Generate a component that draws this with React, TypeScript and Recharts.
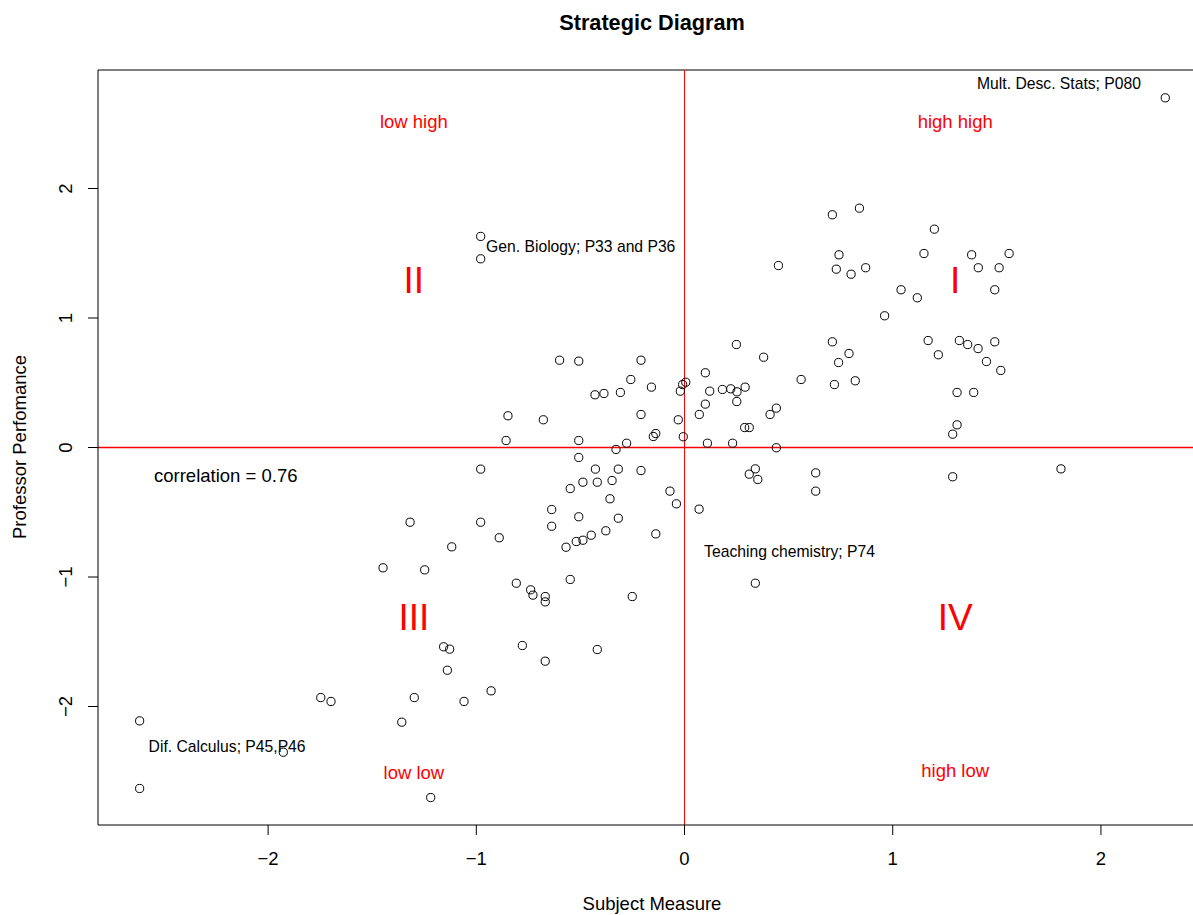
import { ScatterChart, Scatter, XAxis, YAxis, ReferenceLine } from 'recharts';

// subject measure (x) and professor performance (y), one entry per course
const subjectMeasure = [
  2.309, 0.71, 0.84, 1.2, 0.742, 1.15, 1.379, 1.559, 0.729, 0.8, 0.87, 1.411, 1.511, 1.04, 1.118, 1.49, 0.961, 0.451,
  0.71, 0.79, 0.74, 0.72, 0.82, 1.17, 1.32, 1.36, 1.41, 1.49, 1.219, 1.45, 1.519, 1.309, 1.389, 1.309, 1.288,
  0.249, 0.38, 0.56, 0.1, 0.006, -0.009, -0.02, 0.121, 0.182, 0.222, 0.252, 0.291, 0.1, 0.251, 0.071, 0.441, 0.411,
  0.289, 0.311, -0.006, 0.11, 0.231, 0.441,
  -0.979, -0.979, -0.6, -0.508, -0.209, -0.258, -0.159, -0.43, -0.387, -0.308, -0.848, -0.678, -0.209, -0.03,
  -0.857, -0.508, -0.138, -0.15, -0.278,
  -0.329, -0.508, -0.979, -0.428, -0.318, -0.209, 0.34, 0.311, 0.352, 0.63, 0.63, 1.288, 1.808, -0.488, -0.419,
  -0.348, -0.549, -0.07, -0.358, -0.039, 0.07, -0.979, -0.638, -0.508, -0.318, -0.638, -0.138, -0.89, -0.378,
  -0.448, -0.488, -0.52, -0.569, -0.808, -0.739, -0.728, -0.669, -0.669, -0.549, -0.251, 0.34, -0.779, -0.419,
  -0.669, -0.929, -1.059, -1.318, -1.118, -1.448, -1.248, -1.157, -1.128, -1.139, -1.747, -1.698, -1.298, -1.358,
  -2.617, -1.927, -2.617, -1.219,
];
const professorPerformance = [
  2.7, 1.797, 1.848, 1.686, 1.488, 1.498, 1.488, 1.498, 1.377, 1.338, 1.388, 1.388, 1.388, 1.218, 1.156, 1.218, 1.017, 1.405,
  0.816, 0.726, 0.656, 0.486, 0.515, 0.826, 0.826, 0.795, 0.764, 0.816, 0.716, 0.664, 0.595, 0.425, 0.425, 0.175, 0.103,
  0.795, 0.697, 0.525, 0.577, 0.504, 0.486, 0.435, 0.435, 0.448, 0.453, 0.43, 0.466, 0.335, 0.355, 0.255, 0.304, 0.255,
  0.154, 0.154, 0.083, 0.033, 0.033, -0.002,
  1.63, 1.457, 0.674, 0.667, 0.674, 0.525, 0.466, 0.407, 0.417, 0.425, 0.245, 0.214, 0.255, 0.214,
  0.054, 0.054, 0.108, 0.085, 0.033,
  -0.015, -0.077, -0.167, -0.167, -0.167, -0.178, -0.165, -0.206, -0.247, -0.196, -0.337, -0.226, -0.165, -0.268, -0.268,
  -0.255, -0.317, -0.337, -0.396, -0.435, -0.476, -0.577, -0.479, -0.535, -0.546, -0.608, -0.667, -0.697, -0.643,
  -0.677, -0.716, -0.726, -0.77, -1.048, -1.099, -1.14, -1.151, -1.192, -1.019, -1.151, -1.048, -1.529, -1.56,
  -1.65, -1.879, -1.961, -0.577, -0.767, -0.929, -0.945, -1.539, -1.557, -1.72, -1.931, -1.961, -1.931, -2.121,
  -2.111, -2.353, -2.633, -2.703,
];

const xTicks = [-2, -1, 0, 1, 2];
const yTicks = [-2, -1, 0, 1, 2];
const xDomain: [number, number] = [-2.817, 2.507];
const yDomain: [number, number] = [-2.915, 2.915];

const quadrantNames = ['low high', 'high high', 'low low', 'high low'];
const quadrantNameX = [-1.3, 1.3, -1.3, 1.3];
const quadrantNameY = [2.52, 2.52, -2.51, -2.49];

const romanNames = ['II', 'I', 'III', 'IV'];
const romanX = [-1.3, 1.3, -1.3, 1.3];
const romanY = [1.295, 1.295, -1.307, -1.307];

const noteTexts = ['Mult. Desc. Stats; P080', 'Gen. Biology; P33 and P36', 'Teaching chemistry; P74', 'Dif. Calculus; P45,P46'];
const noteX = [1.405, -0.953, 0.094, -2.574];
const noteY = [2.808, 1.552, -0.799, -2.305];

const correlationText = ['correlation = 0.76'];
const correlationX = [-2.548];
const correlationY = [-0.216];

const FONT = '"Liberation Sans", Arial, Helvetica, sans-serif';

const points = subjectMeasure.map((x, i) => ({ x, y: professorPerformance[i] }));
const toLabels = (texts: string[], xs: number[], ys: number[]) =>
  texts.map((label, i) => ({ x: xs[i], y: ys[i], label }));

const quadrantData = toLabels(quadrantNames, quadrantNameX, quadrantNameY);
const romanData = toLabels(romanNames, romanX, romanY);
const noteData = toLabels(noteTexts, noteX, noteY);
const corrData = toLabels(correlationText, correlationX, correlationY);

const fmt = (v: number) => (v < 0 ? '\u2212' + Math.abs(v) : String(v));

const textShape = (size: number, color: string, anchor: 'start' | 'middle' | 'end') => (props: any) => {
  const { cx, cy, payload } = props;
  return (
    <text x={cx} y={cy + size * 0.358} fontSize={size} fill={color} textAnchor={anchor} fontFamily={FONT}>
      {payload.label}
    </text>
  );
};

const circleShape = (props: any) => (
  <circle cx={props.cx} cy={props.cy} r={4.1} fill="none" stroke="#000" strokeWidth={1} />
);

const XTick = (props: any) => (
  <text x={props.x} y={props.y} fontSize={18.5} textAnchor="middle" fill="#000" fontFamily={FONT}>
    {fmt(props.payload.value)}
  </text>
);

const YTick = (props: any) => (
  <text
    x={props.x}
    y={props.y}
    transform={`rotate(-90 ${props.x} ${props.y})`}
    fontSize={18.5}
    textAnchor="middle"
    fill="#000"
    fontFamily={FONT}
  >
    {fmt(props.payload.value)}
  </text>
);

export default function App() {
  return (
    <div style={{ position: 'absolute', left: 0, top: 0, width: 1193, height: 915, overflow: 'hidden', background: '#fff' }}>
      <ScatterChart width={1212} height={915} margin={{ top: 70, right: 5.5, bottom: 0, left: 0 }}>
        <XAxis
          type="number"
          dataKey="x"
          domain={xDomain}
          ticks={xTicks}
          allowDataOverflow
          interval={0}
          axisLine={{ stroke: '#000' }}
          tickLine={{ stroke: '#000' }}
          tickSize={10}
          tickMargin={30}
          height={90}
          tick={XTick}
        />
        <YAxis
          type="number"
          dataKey="y"
          domain={yDomain}
          ticks={yTicks}
          allowDataOverflow
          interval={0}
          axisLine={{ stroke: '#000' }}
          tickLine={{ stroke: '#000' }}
          tickSize={10}
          tickMargin={16}
          width={98}
          tick={YTick}
        />
        <Scatter data={points} shape={circleShape} isAnimationActive={false} />
        <Scatter data={quadrantData} shape={textShape(18.5, '#ff0000', 'middle')} isAnimationActive={false} />
        <Scatter data={romanData} shape={textShape(37, '#ff0000', 'middle')} isAnimationActive={false} />
        <Scatter data={noteData} shape={textShape(15.7, '#000', 'start')} isAnimationActive={false} />
        <Scatter data={corrData} shape={textShape(18.5, '#000', 'start')} isAnimationActive={false} />
        <ReferenceLine y={yDomain[1]} stroke="#000" strokeWidth={1} ifOverflow="visible" />
        <ReferenceLine x={0} stroke="#ff0000" strokeWidth={1} />
        <ReferenceLine y={0} stroke="#ff0000" strokeWidth={1.4} />
      </ScatterChart>
      <svg
        width={1193}
        height={915}
        style={{ position: 'absolute', left: 0, top: 0, pointerEvents: 'none' }}
        fontFamily={FONT}
      >
        <text x={652} y={30} fontSize={21.7} fontWeight="bold" textAnchor="middle" fill="#000">
          Strategic Diagram
        </text>
        <text x={652} y={910} fontSize={18.5} textAnchor="middle" fill="#000">
          Subject Measure
        </text>
        <text x={26} y={447} fontSize={18.5} textAnchor="middle" fill="#000" transform="rotate(-90 26 447)">
          Professor Perfomance
        </text>
      </svg>
    </div>
  );
}
